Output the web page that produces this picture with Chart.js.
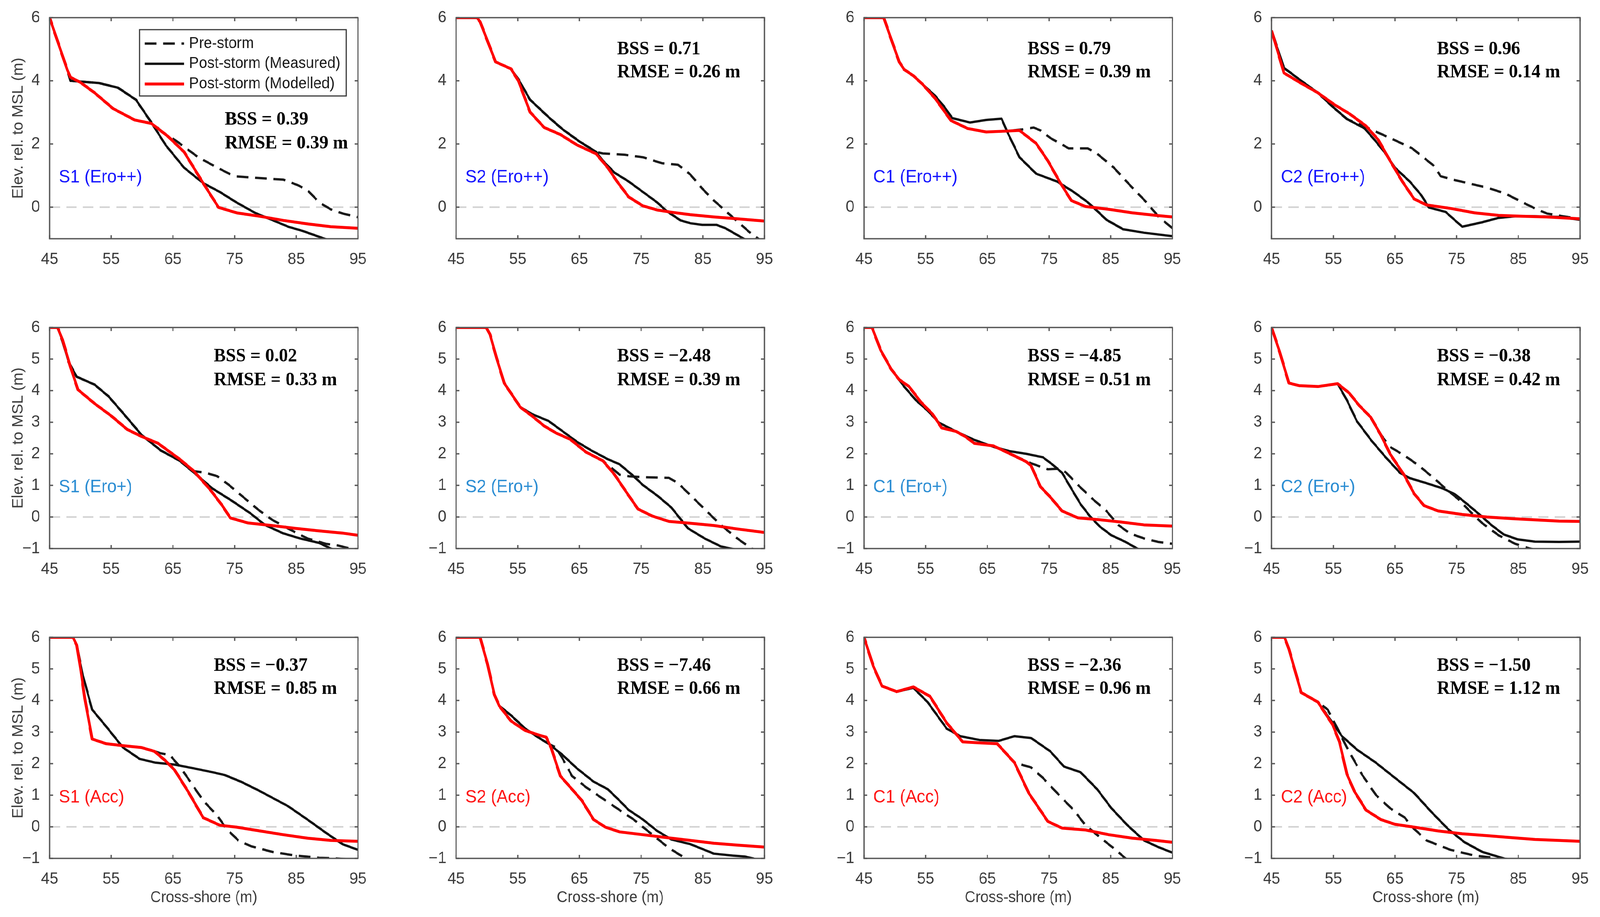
<!DOCTYPE html>
<html lang="en">
<head>
<meta charset="UTF-8">
<title>Pre- and post-storm beach profiles</title>
<script src="https://cdn.jsdelivr.net/npm/chart.js"></script>
<style>
  html, body { margin: 0; padding: 0; background: #fff; overflow: hidden; }
  #page { position: relative; width: 4322px; height: 2347px; overflow: hidden; background: #fff; transform-origin: 0 0; }
  #page canvas { position: absolute; }
</style>
</head>
<body>
<div id="page"></div>
<script>
// ---- data: [cross-shore (m), elevation (m)] ----
// row 1: Ero++
const S1_EROPP_PRE  = [[45,6],[47.9,4.33],[48.4,4.0],[50.4,3.97],[53,3.93],[56.1,3.78],[59,3.4],[61.5,2.68],[63.5,2.35],[65.3,2.13],[69.1,1.58],[72.2,1.25],[74.9,0.98],[79.1,0.92],[82.9,0.87],[85.2,0.7],[86.8,0.54],[88.7,0.15],[90.6,-0.07],[92.5,-0.2],[95,-0.32]];
const S1_EROPP_MEAS = [[45,6],[47.9,4.33],[48.4,4.0],[50.4,3.97],[53,3.93],[56.1,3.78],[59,3.4],[61.5,2.68],[63.8,1.97],[66.8,1.25],[69.9,0.76],[72.6,0.48],[75.3,0.15],[78.3,-0.18],[81,-0.4],[83.7,-0.62],[86,-0.75],[90,-1.03],[95,-1.35]];
const S1_EROPP_MOD  = [[45,6],[47.9,4.33],[48.4,4.11],[50,3.95],[52.3,3.62],[55.3,3.12],[58.8,2.76],[61.5,2.65],[64.2,2.24],[66.8,1.75],[69.9,0.76],[72.4,-0.01],[75.3,-0.18],[79.1,-0.29],[82.9,-0.42],[86.8,-0.53],[90.6,-0.62],[95,-0.67]];

const S2_EROPP_PRE  = [[45,6],[48.4,6],[48.9,5.87],[50.1,5.26],[51.4,4.6],[53.9,4.38],[55.1,4.05],[57,3.4],[60,2.85],[62.3,2.46],[65,2.08],[67.7,1.75],[68.8,1.7],[72.3,1.66],[75.3,1.58],[78.4,1.39],[81,1.34],[83,1.03],[84.9,0.59],[86.8,0.21],[88.7,-0.12],[90.6,-0.45],[92.5,-0.78],[94.2,-1.03],[95,-1.12]];
const S2_EROPP_MEAS = [[45,6],[48.4,6],[48.9,5.87],[50.1,5.26],[51.4,4.6],[53.9,4.38],[55.1,4.05],[57,3.4],[60,2.85],[62.3,2.46],[65,2.08],[67.7,1.75],[68.8,1.47],[70.7,1.09],[73,0.81],[75.3,0.48],[77.6,0.15],[79.1,-0.12],[81.4,-0.42],[83,-0.51],[84.9,-0.56],[87.2,-0.56],[88.7,-0.67],[91.9,-1.03],[95,-1.4]];
const S2_EROPP_MOD  = [[45,6],[48.4,6],[48.9,5.87],[50.1,5.26],[51.4,4.6],[53.9,4.38],[55.1,4.0],[57,3.01],[59.3,2.52],[61.9,2.3],[64.6,1.97],[67.7,1.69],[69.6,1.25],[71.1,0.81],[73,0.32],[75.3,0.04],[77.6,-0.09],[79.9,-0.16],[83,-0.24],[86.8,-0.31],[90.6,-0.37],[95,-0.44]];

const C1_EROPP_PRE  = [[45,6],[48.2,6],[49.2,5.43],[50.7,4.6],[51.5,4.36],[53,4.16],[54.5,3.89],[56.5,3.45],[59.1,2.74],[61.8,2.49],[64.8,2.38],[68.3,2.41],[70.6,2.46],[72.5,2.52],[73.6,2.43],[75.2,2.19],[78.2,1.86],[81.3,1.86],[82.8,1.69],[85.5,1.25],[88.1,0.7],[90.8,0.15],[92.7,-0.29],[95,-0.67]];
const C1_EROPP_MEAS = [[45,6],[48.2,6],[49.2,5.43],[50.7,4.6],[51.5,4.36],[53,4.16],[54.5,3.89],[56.5,3.53],[58,3.18],[59.3,2.82],[62.2,2.68],[64.8,2.76],[67.3,2.8],[68.3,2.35],[70.2,1.58],[72.9,1.06],[76.3,0.81],[79,0.48],[81.3,0.15],[82.8,-0.12],[84.3,-0.4],[87,-0.7],[90.4,-0.81],[95,-0.92]];
const C1_EROPP_MOD  = [[45,6],[48.2,6],[49.2,5.43],[50.7,4.6],[51.5,4.36],[53,4.16],[54.5,3.89],[56.5,3.45],[59.1,2.74],[61.8,2.49],[64.8,2.38],[68.3,2.41],[70.2,2.43],[72.9,2.02],[74.8,1.47],[76.7,0.81],[78.6,0.21],[80.9,0.02],[84.7,-0.07],[88.5,-0.18],[92.3,-0.26],[95,-0.31]];

const C2_EROPP_PRE  = [[45,5.59],[47,4.41],[49.8,4.0],[52.5,3.62],[54.9,3.18],[57.2,2.79],[60.1,2.55],[64.2,2.19],[67.8,1.86],[71.3,1.31],[72.4,0.98],[74.4,0.87],[79.9,0.62],[82.9,0.43],[85.7,0.15],[87.7,-0.04],[89.6,-0.2],[92.3,-0.29],[95,-0.37]];
const C2_EROPP_MEAS = [[45,5.59],[47,4.41],[49.8,4.0],[52.5,3.62],[54.9,3.18],[57.2,2.79],[60.1,2.49],[61.9,2.08],[63.5,1.69],[65,1.25],[67.4,0.81],[69.3,0.37],[70.5,-0.01],[73.2,-0.15],[75.9,-0.62],[79.1,-0.48],[81.8,-0.34],[84.5,-0.29],[87.7,-0.29],[91.6,-0.31],[95,-0.4]];
const C2_EROPP_MOD  = [[45,5.59],[47,4.25],[49.8,3.92],[52.5,3.62],[55.3,3.23],[57.6,2.96],[60.3,2.57],[62.3,2.13],[64.2,1.47],[66.2,0.81],[68.1,0.26],[70.1,0.07],[74,-0.04],[77.9,-0.18],[81.8,-0.26],[85.7,-0.29],[89.6,-0.31],[95,-0.37]];

// row 2: Ero+
const S1_EROP_PRE  = [[45,6],[46.3,6],[47.1,5.56],[48.1,4.9],[49.4,4.44],[52.3,4.19],[54.6,3.81],[57.3,3.2],[59.9,2.6],[63,2.11],[66.1,1.78],[68.4,1.45],[70.3,1.4],[72.2,1.29],[74.1,1.01],[76.4,0.63],[78.7,0.25],[81,-0.08],[84.1,-0.41],[86.8,-0.68],[89.8,-0.85],[91.7,-0.9],[93.7,-1.0],[95,-1.08]];
const S1_EROP_MEAS = [[45,6],[46.3,6],[47.1,5.56],[48.1,4.9],[49.4,4.44],[52.3,4.19],[54.6,3.81],[57.3,3.2],[59.9,2.6],[63,2.11],[66.1,1.78],[68.8,1.34],[71.4,0.9],[74.5,0.52],[77.6,0.11],[79.9,-0.25],[82.9,-0.52],[85.6,-0.68],[88.7,-0.82],[90.6,-1.0],[95,-1.3]];
const S1_EROP_MOD  = [[45,6],[46.3,6],[47.1,5.61],[48.4,4.74],[49.6,4.03],[52.3,3.59],[55,3.2],[57.6,2.77],[59.9,2.55],[62.6,2.33],[66.1,1.83],[68.4,1.45],[71.1,0.85],[73,0.36],[74.3,-0.03],[77.2,-0.19],[81,-0.27],[84.8,-0.36],[88.7,-0.44],[92.5,-0.51],[95,-0.58]];

const S2_EROP_PRE  = [[45,6],[49.9,6],[50.5,5.78],[51.6,5.01],[52.8,4.24],[53.9,3.92],[55.4,3.48],[57.3,3.2],[59.3,2.88],[61.2,2.66],[63.5,2.46],[66.1,2.05],[68.8,1.78],[70,1.59],[71.5,1.34],[73,1.29],[75.3,1.26],[79.5,1.24],[81,1.07],[83.3,0.63],[85.6,0.19],[87.9,-0.25],[90.6,-0.68],[92.9,-1.0],[95,-1.15]];
const S2_EROP_MEAS = [[45,6],[49.9,6],[50.5,5.78],[51.6,5.01],[52.8,4.24],[53.9,3.92],[55.4,3.48],[57.3,3.26],[60,3.04],[62.3,2.71],[64.6,2.38],[66.9,2.11],[69.6,1.83],[71.5,1.67],[73.8,1.29],[75.3,1.01],[77.6,0.68],[79.9,0.3],[81,0.03],[82.6,-0.36],[85.3,-0.68],[87.9,-0.93],[89.5,-1.0],[95,-1.2]];
const S2_EROP_MOD  = [[45,6],[49.9,6],[50.5,5.78],[51.6,5.01],[52.8,4.24],[53.9,3.92],[55.4,3.48],[57.3,3.2],[59.3,2.88],[61.2,2.66],[63.5,2.46],[66.1,2.05],[68.8,1.78],[70.7,1.34],[72.6,0.79],[74.5,0.25],[76.8,0.03],[79.5,-0.14],[83,-0.2],[86.8,-0.27],[90.6,-0.38],[95,-0.49]];

const C1_EROP_PRE  = [[45,6],[46.3,6],[47.7,5.28],[49.4,4.68],[50.7,4.35],[52.3,4.13],[54.2,3.64],[56.1,3.26],[57.6,2.82],[59.9,2.71],[61.4,2.55],[62.9,2.33],[66,2.25],[68.7,2.0],[70.6,1.83],[72.1,1.7],[74.8,1.51],[76.7,1.53],[77.8,1.4],[79.7,1.01],[82,0.58],[84.3,0.19],[86.2,-0.25],[88.1,-0.52],[90.4,-0.68],[92.7,-0.79],[95,-0.85]];
const C1_EROP_MEAS = [[45,6],[46.3,6],[47.7,5.28],[49.4,4.68],[51.5,4.13],[53.4,3.7],[55.3,3.37],[57.2,2.98],[59.9,2.71],[62.9,2.44],[66,2.22],[68.7,2.08],[71.3,2.0],[74,1.89],[75.5,1.67],[77.1,1.4],[78.6,0.9],[80.1,0.41],[81.6,0.03],[83.2,-0.3],[85.1,-0.58],[87.4,-0.79],[89.3,-1.0],[95,-1.4]];
const C1_EROP_MOD  = [[45,6],[46.3,6],[47.7,5.28],[49.4,4.68],[50.7,4.35],[52.3,4.13],[54.2,3.64],[56.1,3.26],[57.6,2.82],[59.9,2.71],[61.4,2.55],[62.9,2.33],[66,2.25],[68.7,2.0],[71.3,1.75],[72.1,1.62],[73.6,0.96],[75.2,0.63],[77.1,0.19],[79.7,-0.03],[82.8,-0.08],[86.6,-0.16],[90.4,-0.25],[95,-0.29]];

const C2_EROP_PRE  = [[45,6],[46.3,5.23],[47.8,4.24],[49.4,4.16],[52.5,4.13],[55.7,4.22],[57.6,3.92],[59.2,3.53],[61.1,3.15],[62.3,2.71],[64.2,2.22],[66.6,1.94],[68.9,1.62],[71.3,1.23],[73.2,0.9],[75.2,0.58],[77.1,0.19],[79.1,-0.19],[81.8,-0.58],[84.5,-0.85],[86.9,-1.0],[95,-1.4]];
const C2_EROP_MEAS = [[45,6],[46.3,5.23],[47.8,4.24],[49.4,4.16],[52.5,4.13],[55.7,4.22],[57.2,3.7],[58.8,3.04],[61.1,2.44],[63.5,1.89],[65.8,1.4],[67.4,1.23],[70.1,1.07],[72.8,0.9],[74.8,0.71],[76.7,0.41],[78.7,0.08],[80.6,-0.25],[82.6,-0.55],[84.9,-0.71],[87.7,-0.78],[91.6,-0.79],[95,-0.78]];
const C2_EROP_MOD  = [[45,6],[46.3,5.23],[47.8,4.24],[49.4,4.16],[52.5,4.13],[55.7,4.22],[57.6,3.92],[59.2,3.53],[61.1,3.15],[62.7,2.6],[64.2,2.0],[66.6,1.29],[68.1,0.74],[69.7,0.36],[72,0.19],[75.9,0.08],[79.9,0.0],[83.8,-0.05],[87.7,-0.09],[91.6,-0.13],[95,-0.14]];

// row 3: Acc
const S1_ACC_PRE  = [[45,6],[48.8,6],[49.4,5.75],[50,5.03],[50.7,4.07],[51.9,2.78],[54.2,2.63],[56.9,2.57],[59.9,2.51],[62,2.39],[63,2.33],[64.5,2.27],[66.1,1.91],[67.6,1.49],[69.9,0.83],[72.2,0.35],[73.7,-0.07],[75.6,-0.43],[77.6,-0.61],[81,-0.79],[84.8,-0.91],[88.7,-0.98],[91.4,-1.0],[95,-1.05]];
const S1_ACC_MEAS = [[45,6],[48.8,6],[49.4,5.75],[50.4,4.79],[51.9,3.71],[54.2,3.17],[56.9,2.51],[59.6,2.15],[62.2,2.03],[65.3,1.97],[68.4,1.85],[71.4,1.73],[73.4,1.64],[76,1.43],[79.1,1.13],[83.7,0.65],[86.8,0.23],[89.8,-0.19],[92.5,-0.55],[95,-0.73]];
const S1_ACC_MOD  = [[45,6],[48.8,6],[49.4,5.75],[50,5.03],[50.7,4.07],[51.9,2.78],[54.2,2.63],[56.9,2.57],[59.9,2.51],[62,2.39],[63.8,2.09],[65.3,1.79],[67.6,1.07],[69.9,0.29],[72.6,0.05],[75.3,-0.01],[79.1,-0.13],[82.9,-0.25],[86.8,-0.36],[90.6,-0.43],[95,-0.46]];

const S2_ACC_PRE  = [[45,6],[48.9,6],[50.1,5.15],[51.2,4.19],[52,3.83],[53.9,3.53],[56.2,3.11],[58.5,2.81],[60,2.63],[61.2,2.51],[62.3,2.15],[63.8,1.61],[66.1,1.25],[68.8,0.89],[71.5,0.53],[73.8,0.23],[75.7,-0.07],[77.6,-0.37],[79.5,-0.67],[82.2,-1.0],[84,-1.2]];
const S2_ACC_MEAS = [[45,6],[48.9,6],[50.1,5.15],[51.2,4.19],[52,3.83],[53.9,3.53],[56.2,3.11],[58.5,2.81],[60,2.63],[62.3,2.27],[64.6,1.85],[67.3,1.43],[69.6,1.19],[71.5,0.83],[73,0.53],[75.3,0.23],[77.6,-0.13],[79.9,-0.4],[83,-0.55],[84.9,-0.7],[86.8,-0.85],[89.8,-0.91],[91.8,-0.94],[93.1,-1.0],[95,-1.1]];
const S2_ACC_MOD  = [[45,6],[48.9,6],[50.1,5.15],[51.2,4.19],[52,3.83],[53.9,3.35],[56.2,3.05],[58.5,2.9],[59.6,2.84],[60.4,2.51],[61.9,1.61],[63.8,1.19],[65.4,0.83],[67.3,0.23],[69.2,-0.01],[71.5,-0.16],[75.3,-0.25],[79.1,-0.34],[83,-0.43],[86.8,-0.52],[90.6,-0.58],[95,-0.64]];

const C1_ACC_PRE  = [[45,6],[46.5,5.09],[47.9,4.46],[50.3,4.28],[53,4.43],[55.7,4.13],[58.4,3.29],[61,2.69],[63.7,2.66],[66.6,2.63],[69.4,2.03],[72.1,1.88],[74,1.55],[76.3,1.07],[79,0.53],[80.9,0.05],[83.5,-0.37],[85.8,-0.73],[87.4,-1.0],[89,-1.2]];
const C1_ACC_MEAS = [[45,6],[46.5,5.09],[47.9,4.46],[50.3,4.28],[53,4.4],[55.3,3.95],[58.4,3.11],[60.6,2.87],[63.7,2.75],[66.8,2.72],[69.4,2.87],[72.1,2.81],[75.2,2.39],[77.4,1.91],[80.1,1.73],[82.8,1.19],[85.1,0.59],[87.7,0.05],[90.4,-0.43],[92.7,-0.64],[95,-0.82]];
const C1_ACC_MOD  = [[45,6],[46.5,5.09],[47.9,4.46],[50.3,4.28],[53,4.43],[55.7,4.13],[58.4,3.29],[61,2.69],[63.7,2.66],[66.6,2.63],[69.4,2.03],[71.7,1.07],[74.8,0.17],[77.1,-0.04],[80.9,-0.1],[84.7,-0.25],[88.5,-0.36],[92.3,-0.43],[95,-0.49]];

const C2_ACC_PRE  = [[45,6],[47.1,6],[47.8,5.63],[49.8,4.25],[52.5,3.95],[54.1,3.71],[55.7,3.11],[57.2,2.51],[59.6,1.67],[61.9,1.01],[64.2,0.59],[66.6,0.29],[67.8,-0.01],[70.1,-0.43],[74,-0.73],[77.9,-0.91],[81.8,-1.0],[85,-1.05]];
const C2_ACC_MEAS = [[45,6],[47.1,6],[47.8,5.63],[49.8,4.25],[52.5,3.95],[54.9,3.29],[56.4,2.87],[58.8,2.45],[61.9,2.03],[65,1.55],[68.1,1.07],[70.9,0.47],[73.6,-0.07],[76.3,-0.49],[79.1,-0.79],[82.6,-1.0],[85,-1.1]];
const C2_ACC_MOD  = [[45,6],[47.1,6],[47.8,5.63],[49.8,4.25],[52.5,3.95],[54.9,3.23],[56,2.69],[57.2,1.67],[58.4,1.13],[60.3,0.53],[62.7,0.23],[65,0.08],[68.1,-0.01],[72,-0.13],[75.9,-0.22],[79.9,-0.28],[83.8,-0.34],[87.7,-0.4],[95,-0.46]];

const preSeries  = [S1_EROPP_PRE, S2_EROPP_PRE, C1_EROPP_PRE, C2_EROPP_PRE, S1_EROP_PRE, S2_EROP_PRE, C1_EROP_PRE, C2_EROP_PRE, S1_ACC_PRE, S2_ACC_PRE, C1_ACC_PRE, C2_ACC_PRE];
const measSeries = [S1_EROPP_MEAS, S2_EROPP_MEAS, C1_EROPP_MEAS, C2_EROPP_MEAS, S1_EROP_MEAS, S2_EROP_MEAS, C1_EROP_MEAS, C2_EROP_MEAS, S1_ACC_MEAS, S2_ACC_MEAS, C1_ACC_MEAS, C2_ACC_MEAS];
const modSeries  = [S1_EROPP_MOD, S2_EROPP_MOD, C1_EROPP_MOD, C2_EROPP_MOD, S1_EROP_MOD, S2_EROP_MOD, C1_EROP_MOD, C2_EROP_MOD, S1_ACC_MOD, S2_ACC_MOD, C1_ACC_MOD, C2_ACC_MOD];

const panelNames = ['S1 (Ero++)', 'S2 (Ero++)', 'C1 (Ero++)', 'C2 (Ero++)',
                    'S1 (Ero+)', 'S2 (Ero+)', 'C1 (Ero+)', 'C2 (Ero+)',
                    'S1 (Acc)', 'S2 (Acc)', 'C1 (Acc)', 'C2 (Acc)'];
const bssValues  = [0.39, 0.71, 0.79, 0.96, 0.02, -2.48, -4.85, -0.38, -0.37, -7.46, -2.36, -1.50];
const rmseValues = [0.39, 0.26, 0.39, 0.14, 0.33, 0.39, 0.51, 0.42, 0.85, 0.66, 0.96, 1.12];
const seriesNames = ['Pre-storm', 'Post-storm (Measured)', 'Post-storm (Modelled)'];

const xTicks = [45, 55, 65, 75, 85, 95];
const yTicksRow1 = [0, 2, 4, 6];
const yTicksRest = [-1, 0, 1, 2, 3, 4, 5, 6];

// ---- layout (in 4322 x 2347 figure pixels) ----
const colLeft = [134, 1232, 2334, 3435];
const rowTop = [42, 835, 1628];
const plotW = 833, plotH = 569;
const axisW = 134, padTop = 40, padRight = 60;
const labelColor = ['#1414ff', '#2b8dd3', '#ff1414'];
const statX = [71.6, 71.1, 71.5, 71.8];
const statY = [[5.0, 4.27], [5.08, 4.33], [5.10, 4.37]];

const SANS = "'Liberation Sans', Arial, sans-serif";
const SERIF = "'Liberation Serif', 'Times New Roman', serif";
const fmt = v => String(v).replace('-', '\u2212');
const toXY = arr => arr.map(p => ({ x: p[0], y: p[1] }));

const page = document.getElementById('page');
// fit the figure into the actual viewport if it is smaller than the figure
const fitX = Math.min(1, window.innerWidth / 4322);
const fitY = Math.min(1, window.innerHeight / 2347);
page.style.transform = 'scale(' + fitX + ',' + fitY + ')';

const boxPlugin = {
  id: 'matlabBox',
  afterDatasetsDraw(chart) {
    const { ctx, chartArea: a, scales: { x, y } } = chart;
    ctx.save();
    ctx.strokeStyle = '#5a5a5a';
    ctx.lineWidth = 3.5;
    ctx.strokeRect(a.left, a.top, a.right - a.left, a.bottom - a.top);
    ctx.beginPath();
    x.ticks.forEach(t => {
      const px = x.getPixelForValue(t.value);
      ctx.moveTo(px, a.bottom); ctx.lineTo(px, a.bottom - 9);
      ctx.moveTo(px, a.top); ctx.lineTo(px, a.top + 9);
    });
    y.ticks.forEach(t => {
      const py = y.getPixelForValue(t.value);
      ctx.moveTo(a.left, py); ctx.lineTo(a.left + 9, py);
      ctx.moveTo(a.right, py); ctx.lineTo(a.right - 9, py);
    });
    ctx.stroke();
    ctx.restore();
  }
};

function makeTextPlugin(i) {
  const r = Math.floor(i / 4), c = i % 4;
  return {
    id: 'panelText',
    afterDraw(chart) {
      const { ctx, scales: { x, y } } = chart;
      ctx.save();
      ctx.textBaseline = 'middle';
      ctx.textAlign = 'left';
      // panel name
      ctx.font = '46px ' + SANS;
      ctx.fillStyle = labelColor[r];
      ctx.fillText(panelNames[i], x.getPixelForValue(46.5), y.getPixelForValue(r === 2 ? 0.92 : 0.94));
      // skill scores
      let sx = statX[c], sy = statY[r];
      if (i === 0) { sx = 73.4; sy = [2.77, 2.02]; }
      ctx.font = 'bold 49px ' + SERIF;
      ctx.fillStyle = '#000';
      ctx.fillText('BSS = ' + fmt(bssValues[i].toFixed(2)), x.getPixelForValue(sx), y.getPixelForValue(sy[0]));
      ctx.fillText('RMSE = ' + fmt(rmseValues[i].toFixed(2)) + ' m', x.getPixelForValue(sx), y.getPixelForValue(sy[1]));
      // legend box (first panel only)
      if (i === 0) {
        const x0 = x.getPixelForValue(59.6), x1 = x.getPixelForValue(93.1);
        const y0 = y.getPixelForValue(5.62), y1 = y.getPixelForValue(3.52);
        ctx.fillStyle = '#fff';
        ctx.fillRect(x0, y0, x1 - x0, y1 - y0);
        ctx.strokeStyle = '#3a3a3a';
        ctx.lineWidth = 3;
        ctx.strokeRect(x0, y0, x1 - x0, y1 - y0);
        const rowsY = [5.18, 4.54, 3.90];
        const ds = chart.data.datasets.filter(d => d.label);
        ds.forEach((d, k) => {
          const py = y.getPixelForValue(rowsY[k]);
          ctx.save();
          ctx.strokeStyle = d.borderColor;
          ctx.lineWidth = d.borderWidth;
          ctx.setLineDash(d.borderDash || []);
          ctx.beginPath();
          ctx.moveTo(x.getPixelForValue(60.4), py);
          ctx.lineTo(x.getPixelForValue(66.8), py);
          ctx.stroke();
          ctx.restore();
          ctx.font = '40px ' + SANS;
          ctx.fillStyle = '#1a1a1a';
          ctx.fillText(d.label, x.getPixelForValue(67.6), py);
        });
      }
      ctx.restore();
    }
  };
}

for (let i = 0; i < 12; i++) {
  const r = Math.floor(i / 4), c = i % 4;
  const bottomH = r === 2 ? 170 : 90;
  const canvas = document.createElement('canvas');
  canvas.width = axisW + plotW + padRight;
  canvas.height = padTop + plotH + bottomH;
  canvas.style.left = (colLeft[c] - axisW) + 'px';
  canvas.style.top = (rowTop[r] - padTop) + 'px';
  page.appendChild(canvas);

  const yTicks = r === 0 ? yTicksRow1 : yTicksRest;

  new Chart(canvas, {
    type: 'line',
    data: {
      datasets: [
        { label: seriesNames[0], data: toXY(preSeries[i]), borderColor: '#1a1a1a', borderWidth: 6, borderDash: [32, 18], order: 2 },
        { label: seriesNames[1], data: toXY(measSeries[i]), borderColor: '#111111', borderWidth: 6, order: 1 },
        { label: seriesNames[2], data: toXY(modSeries[i]), borderColor: '#ff0000', borderWidth: 7.5, order: 0 },
        { label: '', data: [{ x: xTicks[0], y: 0 }, { x: xTicks[xTicks.length - 1], y: 0 }], borderColor: '#d2d2d2', borderWidth: 4, borderDash: [28, 17], order: 3 }
      ]
    },
    options: {
      responsive: false,
      animation: false,
      devicePixelRatio: 1,
      layout: { padding: { top: padTop, right: padRight, left: 0, bottom: 0 } },
      elements: { point: { radius: 0 }, line: { tension: 0, borderCapStyle: 'butt', borderJoinStyle: 'round' } },
      plugins: { legend: { display: false }, tooltip: { enabled: false } },
      scales: {
        x: {
          type: 'linear', min: 45, max: 95,
          grid: { display: false }, border: { display: false },
          afterBuildTicks: s => { s.ticks = xTicks.map(v => ({ value: v })); },
          afterFit: s => { s.height = bottomH; },
          ticks: { padding: 20, autoSkip: false, maxRotation: 0, color: '#3c3c3c', font: { family: SANS, size: 42 }, callback: fmt },
          title: { display: r === 2, text: 'Cross-shore (m)', color: '#3c3c3c', font: { family: SANS, size: 40 }, padding: { top: 4, bottom: 45 } }
        },
        y: {
          type: 'linear', min: -1, max: 6,
          grid: { display: false }, border: { display: false },
          afterBuildTicks: s => { s.ticks = yTicks.map(v => ({ value: v })); },
          afterFit: s => { s.width = axisW; },
          ticks: { padding: 18, color: '#3c3c3c', font: { family: SANS, size: 42 }, callback: fmt },
          title: { display: c === 0, text: 'Elev. rel. to MSL (m)', color: '#3c3c3c', font: { family: SANS, size: 40 }, padding: { top: 26, bottom: 0 } }
        }
      }
    },
    plugins: [boxPlugin, makeTextPlugin(i)]
  });
}
</script>
</body>
</html>
